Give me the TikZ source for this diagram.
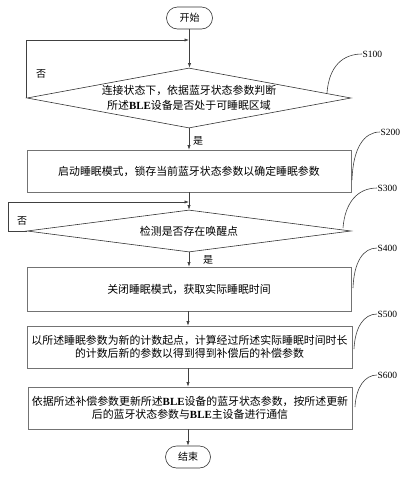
\documentclass[tikz,border=0pt]{standalone}
\usepackage{fontspec}
\setmainfont{Liberation Serif}
\newfontfamily\cjk{Noto Sans CJK SC}
\usetikzlibrary{arrows.meta,shapes.geometric}
\newcommand\lat[1]{{\rmfamily\bfseries #1}}
\tikzset{
  txt/.style={font=\cjk\fontsize{10.9}{13}\selectfont, align=center, inner sep=0pt},
  procbox/.style={txt, draw=black!55, line width=0.6pt, rectangle, minimum height=42pt},
  decis/.style={txt, draw=black!80, line width=0.6pt, diamond, aspect=5.4, font=\cjk\fontsize{10.9}{15}\selectfont},
  term/.style={draw=black!80, line width=0.6pt, rectangle, rounded corners=11pt, minimum width=46pt, minimum height=22pt, inner sep=0pt, font=\cjk\fontsize{10}{12}\selectfont},
  conn/.style={draw=black!75, line width=0.6pt},
  arr/.style={conn, -{Latex[length=4.5pt,width=3.2pt]}},
  lead/.style={draw=black!75, line width=0.6pt},
  stag/.style={font=\fontsize{9.5}{11}\selectfont, inner sep=0.5pt, anchor=west},
  yn/.style={font=\cjk\fontsize{10}{12}\selectfont, inner sep=0pt}
}
\begin{document}
\begin{tikzpicture}[x=1pt,y=-1pt]
\useasboundingbox (0,0) rectangle (401,477);

\node[term] (start) at (189.5,18) {开始};
\node[decis, minimum width=324pt, minimum height=60pt] (d1) at (189,98)
  {连接状态下，依据蓝牙状态参数判断\\所述\lat{BLE}设备是否处于可睡眠区域};
\node[procbox, minimum width=324pt] (b2) at (189,171)
  {启动睡眠模式，锁存当前蓝牙状态参数以确定睡眠参数};
\node[decis, minimum width=324pt, minimum height=42pt] (d2) at (189,231)
  {检测是否存在唤醒点};
\node[procbox, minimum width=324pt, minimum height=44pt] (b4) at (189,289)
  {关闭睡眠模式，获取实际睡眠时间};
\node[procbox, minimum width=325pt] (b5) at (189.5,347)
  {以所述睡眠参数为新的计数起点，计算经过所述实际睡眠时间时长\\的计数后新的参数以得到得到补偿后的补偿参数};
\node[procbox, minimum width=324pt] (b6) at (190,408)
  {依据所述补偿参数更新所述\lat{BLE}设备的蓝牙状态参数，按所述更新\\后的蓝牙状态参数与\lat{BLE}主设备进行通信};
\node[term, minimum width=45pt] (end) at (188,457) {结束};

% main flow
\draw[arr] (start.south) -- (start.south |- d1.north);
\draw[arr] (d1.south) -- (d1.south |- b2.north);
\draw[arr] (b2.south) -- (b2.south |- d2.north);
\draw[arr] (d2.south) -- (d2.south |- b4.north);
\draw[arr] (end.north |- b4.south) -- (end.north |- b5.north);
\draw[arr] (end.north |- b5.south) -- (end.north |- b6.north);
\draw[arr] (end.north |- b6.south) -- (end.north);

% loops
\coordinate (j1) at (189,40);
\coordinate (j2) at (189,202);
\draw[arr] (d1.west) |- (j1);
\draw[arr] (d2.west) -- ++(-18,0) |- (j2);

% yes / no labels
\node[yn] (n1) at (41,74) {否};
\node[yn] (y1) at (198,141) {是};
\node[yn] (n2) at (22,221) {否};
\node[yn] (y2) at (208,260) {是};

% step tags with leaders
\node[stag] (s100) at (362,54) {S100};
\node[stag] (s200) at (380,132) {S200};
\node[stag] (s300) at (377,188) {S300};
\node[stag] (s400) at (377,248) {S400};
\node[stag] (s500) at (377,314) {S500};
\node[stag] (s600) at (377,375) {S600};
\coordinate (l1) at (327,93);
\coordinate (l2) at (352,180);
\coordinate (l3) at (343,228);
\coordinate (l4) at (353,288);
\coordinate (l5) at (354,349);
\coordinate (l6) at (355,407);
\draw[lead] (l1) .. controls (329,66) and (343,54) .. (s100.west);
\draw[lead] (l2) .. controls (353,148) and (364,132) .. (s200.west);
\draw[lead] (l3) .. controls (345,202) and (358,188) .. (s300.west);
\draw[lead] (l4) .. controls (354,262) and (363,248) .. (s400.west);
\draw[lead] (l5) .. controls (355,327) and (364,314) .. (s500.west);
\draw[lead] (l6) .. controls (356,387) and (365,375) .. (s600.west);
\end{tikzpicture}
\end{document}
